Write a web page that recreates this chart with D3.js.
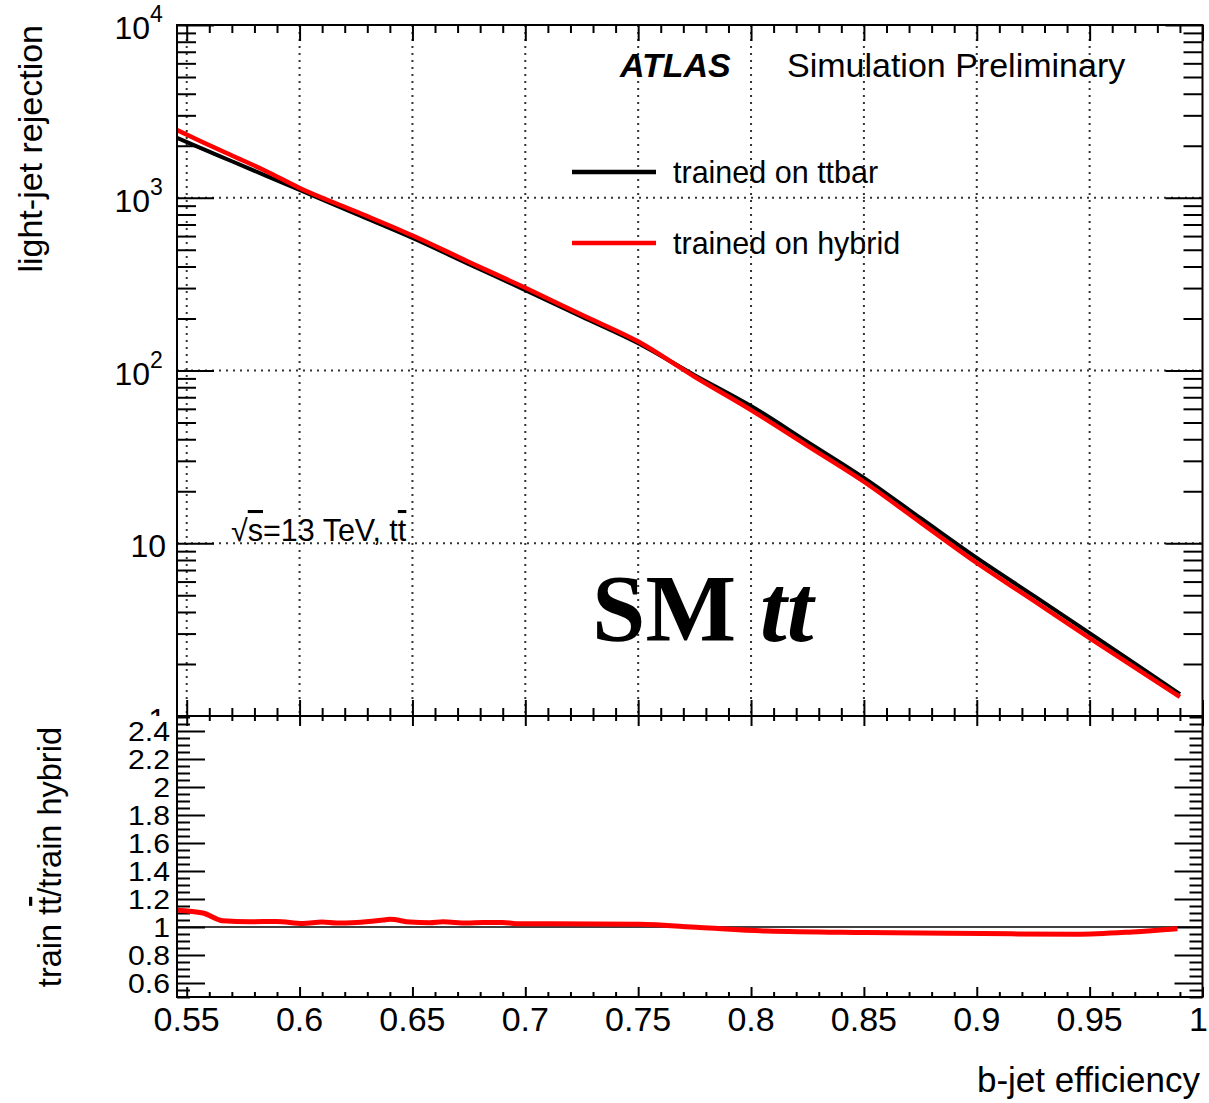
<!DOCTYPE html>
<html>
<head>
<meta charset="utf-8">
<script src="https://cdn.jsdelivr.net/npm/d3@7"></script>
<style>
  html, body { margin: 0; padding: 0; background: #fff; }
  svg { display: block; }
  text { font-family: "Liberation Sans", Arial, Helvetica, sans-serif; fill: #000; }
</style>
</head>
<body>
<div id="chart"></div>
<script>
// ---------------- data ----------------
const effMain = [0.5457, 0.555, 0.57, 0.585, 0.6, 0.625, 0.65, 0.675, 0.7, 0.725, 0.75, 0.775, 0.8, 0.825, 0.85, 0.875, 0.9, 0.925, 0.95, 0.975, 0.99];
const rejTtbar = [2220, 1968, 1626, 1343, 1109, 805, 585, 413, 292, 205, 144, 94, 62.3, 38.6, 23.9, 14.0, 8.22, 4.99, 3.02, 1.82, 1.34];
const rejHybrid = [2467, 2158, 1756, 1430, 1139, 832, 605, 425, 301, 210, 147, 92, 59, 36.6, 22.7, 13.2, 7.69, 4.67, 2.82, 1.73, 1.29];

const effRatio = [0.5457, 0.5572, 0.566, 0.578, 0.5898, 0.6015, 0.610, 0.6164, 0.6253, 0.637, 0.640, 0.6489, 0.6577, 0.6635, 0.674, 0.6812, 0.690, 0.696, 0.7109, 0.7507, 0.7773, 0.8068, 0.851, 0.9026, 0.944, 0.969, 0.9889];
const ratioVals = [1.12, 1.10, 1.045, 1.038, 1.04, 1.025, 1.035, 1.028, 1.033, 1.05, 1.055, 1.035, 1.03, 1.037, 1.028, 1.033, 1.033, 1.024, 1.024, 1.019, 0.996, 0.971, 0.96, 0.953, 0.948, 0.965, 0.988];

const xMajorTicks = [0.55, 0.6, 0.65, 0.7, 0.75, 0.8, 0.85, 0.9, 0.95, 1.0];
const xTickLabels = ["0.55", "0.6", "0.65", "0.7", "0.75", "0.8", "0.85", "0.9", "0.95", "1"];
const yMainMajor = [1, 10, 100, 1000, 10000];
const yMainLabels = [["1", ""], ["10", ""], ["10", "2"], ["10", "3"], ["10", "4"]];
const yRatioMajor = [0.6, 0.8, 1.0, 1.2, 1.4, 1.6, 1.8, 2.0, 2.2, 2.4];
const yRatioLabels = ["0.6", "0.8", "1", "1.2", "1.4", "1.6", "1.8", "2", "2.2", "2.4"];
const seriesNames = ["trained on ttbar", "trained on hybrid"];
const seriesColors = ["#000000", "#ff0000"];

// ---------------- layout ----------------
const W = 1209, H = 1103;
const L = 177, R = 1202.5, T = 25, MB = 716, RB = 997;

const svg = d3.select("#chart").append("svg").attr("width", W).attr("height", H);
svg.append("rect").attr("width", W).attr("height", H).attr("fill", "#fff");

const x = d3.scaleLinear().domain([0.5457, 1.0]).range([L, R]);
const y = d3.scaleLog().domain([1, 1e4]).range([MB, T]);
const yr = d3.scaleLinear().domain([0.5, 2.5]).range([RB, MB + 1]);

// tick value sets
const xMinor = d3.range(55, 100).map(v => v / 100).filter(v => Math.abs(v * 20 - Math.round(v * 20)) > 1e-6);
const yMainMinor = [];
[1, 10, 100, 1000].forEach(d => { for (let k = 2; k <= 9; k++) yMainMinor.push(k * d); });
const yRatioMinor = d3.range(10, 51).map(v => v * 0.05).filter(v => Math.abs(v * 5 - Math.round(v * 5)) > 1e-6);

function axisGroup(gen, tx, ty) {
  const g = svg.append("g").attr("transform", `translate(${tx},${ty})`).call(gen);
  g.select(".domain").remove();
  g.selectAll("line").attr("stroke", "#000").attr("stroke-width", 2);
  g.selectAll("text").remove();
  return g;
}

// ---------------- main panel ----------------
const defs = svg.append("defs");
defs.append("clipPath").attr("id", "clipMain").append("rect")
  .attr("x", L).attr("y", T).attr("width", R - L).attr("height", MB - T);
defs.append("clipPath").attr("id", "clipRatio").append("rect")
  .attr("x", L).attr("y", MB).attr("width", R - L).attr("height", RB - MB);
defs.append("clipPath").attr("id", "clipTopPad").append("rect")
  .attr("x", 0).attr("y", 0).attr("width", W).attr("height", MB);

// grid
const grid = svg.append("g").attr("stroke", "#333").attr("stroke-width", 2).attr("stroke-dasharray", "2 5");
xMajorTicks.filter(v => v < 0.999).forEach(v => {
  grid.append("line").attr("x1", x(v)).attr("x2", x(v)).attr("y1", T).attr("y2", MB);
});
[10, 100, 1000].forEach(v => {
  grid.append("line").attr("x1", L).attr("x2", R).attr("y1", y(v)).attr("y2", y(v));
});

// main ticks
axisGroup(d3.axisBottom(x).tickValues(xMinor).tickSize(-8), 0, MB);
axisGroup(d3.axisBottom(x).tickValues(xMajorTicks).tickSize(-16), 0, MB);
axisGroup(d3.axisTop(x).tickValues(xMinor).tickSize(-8), 0, T);
axisGroup(d3.axisTop(x).tickValues(xMajorTicks).tickSize(-16), 0, T);
axisGroup(d3.axisLeft(y).tickValues(yMainMinor).tickSize(-19), L, 0);
axisGroup(d3.axisLeft(y).tickValues(yMainMajor).tickSize(-37), L, 0);
axisGroup(d3.axisRight(y).tickValues(yMainMinor).tickSize(-19), R, 0);
axisGroup(d3.axisRight(y).tickValues(yMainMajor).tickSize(-37), R, 0);

// curves
const mainLine = d3.line().x(d => x(d[0])).y(d => y(d[1])).curve(d3.curveMonotoneX);
const curves = svg.append("g").attr("clip-path", "url(#clipMain)");
curves.append("path").datum(effMain.map((e, i) => [e, rejTtbar[i]]))
  .attr("d", mainLine).attr("fill", "none").attr("stroke", seriesColors[0]).attr("stroke-width", 4);
curves.append("path").datum(effMain.map((e, i) => [e, rejHybrid[i]]))
  .attr("d", mainLine).attr("fill", "none").attr("stroke", seriesColors[1]).attr("stroke-width", 4.5);

// main y labels
const yLab = svg.append("g").attr("clip-path", "url(#clipTopPad)");
yMainMajor.forEach((v, i) => {
  const lab = yMainLabels[i];
  const yy = v === 1 ? y(v) + 15 : y(v) + 14;
  yLab.append("text").attr("text-anchor", "end").attr("font-size", 32)
    .attr("x", lab[1] ? 150 : 166).attr("y", yy).text(lab[0]);
  if (lab[1]) {
    yLab.append("text").attr("text-anchor", "start").attr("font-size", 23)
      .attr("x", 150).attr("y", y(v) - 3).text(lab[1]);
  }
});

// main frame
svg.append("rect").attr("x", L).attr("y", T).attr("width", R - L).attr("height", MB - T)
  .attr("fill", "none").attr("stroke", "#000").attr("stroke-width", 2);

// texts
svg.append("text").attr("x", 620).attr("y", 77).attr("font-size", 34)
  .attr("font-weight", "bold").attr("font-style", "italic").text("ATLAS");
svg.append("text").attr("x", 787).attr("y", 77).attr("font-size", 34).text("Simulation Preliminary");

// legend
seriesNames.forEach((name, i) => {
  const ly = i === 0 ? 172 : 243;
  svg.append("line").attr("x1", 572).attr("x2", 656).attr("y1", ly).attr("y2", ly)
    .attr("stroke", seriesColors[i]).attr("stroke-width", 4.5);
  svg.append("text").attr("x", 673).attr("y", ly + 11).attr("font-size", 30.5).text(name);
});

// sqrt(s) label
const ts = svg.append("text").attr("x", 231).attr("y", 541).attr("font-size", 30.5);
ts.append("tspan").text("√");
ts.append("tspan").style("text-decoration", "overline").text("s");
ts.append("tspan").text("=13 TeV, t");
ts.append("tspan").style("text-decoration", "overline").text("t");

// SM tt
const sm = svg.append("text").attr("x", 592).attr("y", 641).attr("font-size", 96)
  .style("font-family", "'Liberation Serif', 'Times New Roman', serif").attr("font-weight", "bold");
sm.append("tspan").text("SM ");
sm.append("tspan").attr("font-style", "italic").text("tt");

// y title main
svg.append("text").attr("transform", "translate(42,25) rotate(-90)").attr("text-anchor", "end")
  .attr("font-size", 34).text("light-jet rejection");

// ---------------- ratio panel ----------------
svg.append("rect").attr("x", 0).attr("y", MB + 1).attr("width", W).attr("height", H - MB - 1).attr("fill", "#fff");

axisGroup(d3.axisBottom(x).tickValues(xMinor).tickSize(-5), 0, RB);
axisGroup(d3.axisBottom(x).tickValues(xMajorTicks).tickSize(-10), 0, RB);
axisGroup(d3.axisTop(x).tickValues(xMinor).tickSize(-5), 0, MB);
axisGroup(d3.axisTop(x).tickValues(xMajorTicks).tickSize(-10), 0, MB);
axisGroup(d3.axisLeft(yr).tickValues(yRatioMinor).tickSize(-13), L, 0);
axisGroup(d3.axisLeft(yr).tickValues(yRatioMajor).tickSize(-28), L, 0);
axisGroup(d3.axisRight(yr).tickValues(yRatioMinor).tickSize(-13), R, 0);
axisGroup(d3.axisRight(yr).tickValues(yRatioMajor).tickSize(-28), R, 0);

// reference line at 1
svg.append("line").attr("x1", L).attr("x2", R).attr("y1", yr(1)).attr("y2", yr(1))
  .attr("stroke", "#000").attr("stroke-width", 1.5);

const ratioLine = d3.line().x(d => x(d[0])).y(d => yr(d[1])).curve(d3.curveMonotoneX);
svg.append("g").attr("clip-path", "url(#clipRatio)").append("path")
  .datum(effRatio.map((e, i) => [e, ratioVals[i]]))
  .attr("d", ratioLine).attr("fill", "none").attr("stroke", seriesColors[1]).attr("stroke-width", 5);

svg.append("rect").attr("x", L).attr("y", MB).attr("width", R - L).attr("height", RB - MB)
  .attr("fill", "none").attr("stroke", "#000").attr("stroke-width", 2);

// ratio y labels
yRatioMajor.forEach((v, i) => {
  svg.append("text").attr("text-anchor", "end").attr("font-size", 27)
    .attr("transform", `translate(170,${yr(v) + 10}) scale(1.12,1)`).text(yRatioLabels[i]);
});

// x labels
xMajorTicks.forEach((v, i) => {
  const last = i === xMajorTicks.length - 1;
  svg.append("text").attr("text-anchor", last ? "end" : "middle").attr("font-size", 34)
    .attr("x", last ? 1208 : x(v)).attr("y", 1031).text(xTickLabels[i]);
});

// axis titles
svg.append("text").attr("x", 1200).attr("y", 1092).attr("text-anchor", "end").attr("font-size", 35)
  .text("b-jet efficiency");
const rt = svg.append("text").attr("transform", "translate(61,727) rotate(-90)").attr("text-anchor", "end")
  .attr("font-size", 32.5);
rt.append("tspan").text("train t");
rt.append("tspan").style("text-decoration", "overline").text("t");
rt.append("tspan").text("/train hybrid");
</script>
</body>
</html>
